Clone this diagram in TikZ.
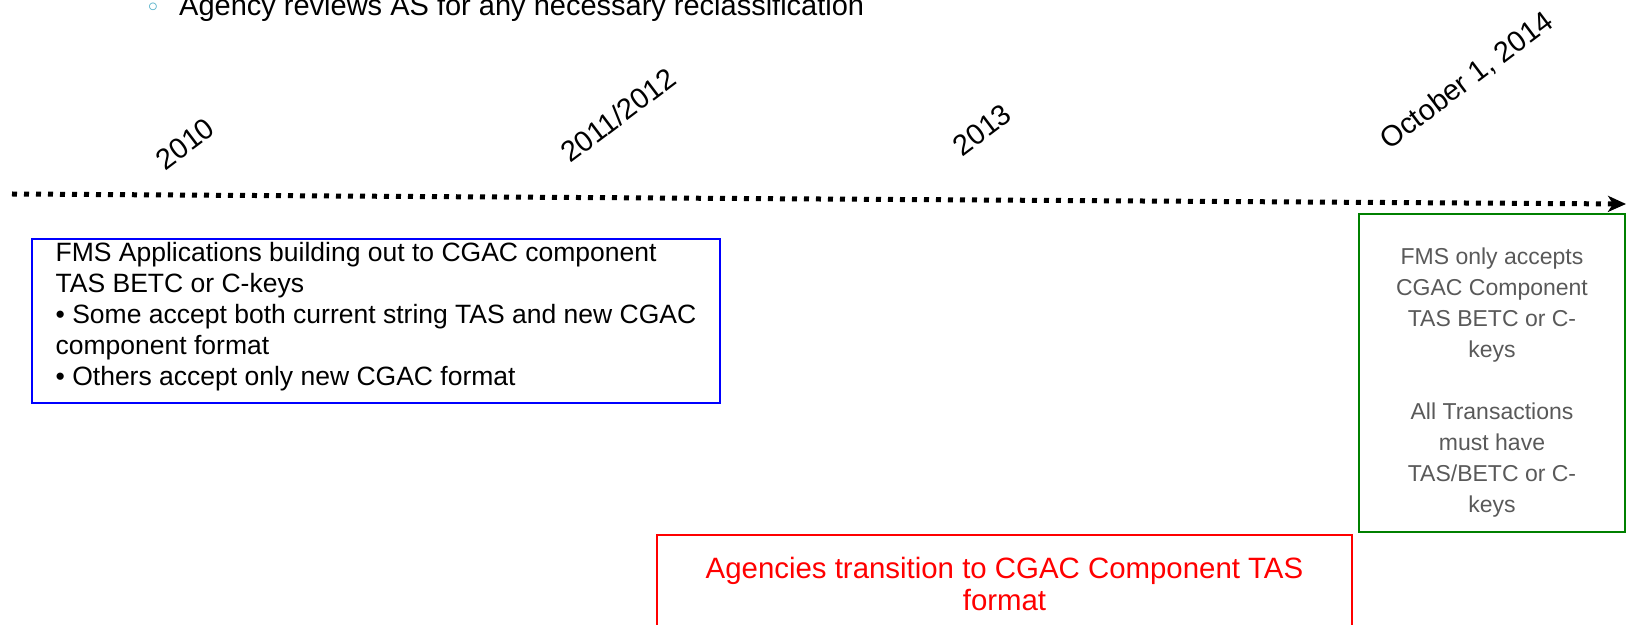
\documentclass[tikz,border=0pt]{standalone}
\usepackage{fontspec}
\setmainfont{Liberation Sans}
\newfontfamily\symfont{DejaVu Sans}
\usetikzlibrary{arrows.meta}
\definecolor{boxblue}{RGB}{0,0,255}
\definecolor{boxgreen}{RGB}{0,128,0}
\definecolor{boxred}{RGB}{255,0,0}
\definecolor{textgray}{RGB}{89,89,89}
\definecolor{bulletblue}{RGB}{75,172,198}
\tikzstyle{year-label}=[rotate=37,font=\fontsize{29}{33}\selectfont,inner sep=0pt]
\tikzstyle{blue-box}=[draw=boxblue,line width=2pt,minimum width=688pt,minimum height=157pt,align=left,font=\fontsize{26.5}{31}\selectfont]
\tikzstyle{green-box}=[draw=boxgreen,line width=2pt,minimum width=266pt,minimum height=318pt,align=center,text=textgray,font=\fontsize{23}{31}\selectfont]
\tikzstyle{red-box}=[draw=boxred,line width=2pt,minimum width=695pt,minimum height=98pt,align=center,text=boxred,font=\fontsize{29.4}{32}\selectfont]
\tikzstyle{time-line}=[draw=black,line width=5pt,dash pattern=on 5pt off 7pt]

\begin{document}
\begin{tikzpicture}[x=1pt,y=1pt]
	\useasboundingbox (0,0) rectangle (1628,624);
	\begin{scope}
	\node (bul)[text=bulletblue,inner sep=0pt,font=\symfont\fontsize{26}{26}\selectfont] at (153,614) {◦};
	\node (note)[anchor=base west,inner sep=0pt,font=\fontsize{29}{33}\selectfont] at (179,608.5) {Agency reviews AS for any necessary reclassification};
	\end{scope}

	\begin{scope}
	\node (y1)[year-label] at (185,480) {2010};
	\node (y2)[year-label] at (618,509) {2011/2012};
	\node (y3)[year-label] at (982,494) {2013};
	\node (y4)[year-label] at (1467,543) {October 1, 2014};
	\end{scope}

	\begin{scope}
	\coordinate (tstart) at (12,430);
	\coordinate (tend) at (1626,420);
	\path [time-line,-{Stealth[length=18pt,width=16pt,inset=5pt]}] (tstart) -- (tend);
	\end{scope}

	\begin{scope}
	\node (fms)[blue-box] at (376,303) {FMS Applications building out to CGAC component\\TAS BETC or C-keys\\• Some accept both current string TAS and new CGAC\\component format\\• Others accept only new CGAC format\rule[-15pt]{0pt}{1pt}};
	\node (only)[green-box] at (1492,251) {\rule{0pt}{35pt}FMS only accepts\\CGAC Component\\TAS BETC or C-\\keys\\[31pt]All Transactions\\must have\\TAS/BETC or C-\\keys};
	\node (trans)[red-box] at (1004.5,40) {Agencies transition to CGAC Component TAS\\format};
	\end{scope}
\end{tikzpicture}
\end{document}
